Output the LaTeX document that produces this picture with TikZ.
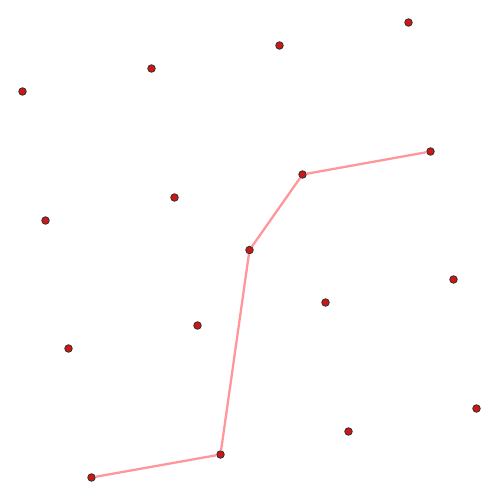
\documentclass[tikz,border=0pt]{standalone}
\begin{document}
\begin{tikzpicture}[x=0.02cm, y=-0.02cm,
    pt/.style={circle, draw=black!80, fill=ptred, line width=0.5pt, inner sep=0pt, minimum size=0.15cm},
    route/.style={linkred, line width=1.3pt}]
    % Define colors
    \definecolor{ptred}{RGB}{210, 20, 20}
    \definecolor{linkred}{RGB}{255, 150, 155}

    % Canvas
    \useasboundingbox (0, 0) rectangle (500, 500);

    % Lattice points
    \node[pt] (p1) at (408.5, 22.5) {};
    \node[pt] (p2) at (279.5, 45.5) {};
    \node[pt] (p3) at (151.5, 68.5) {};
    \node[pt] (p4) at (22.5, 91.5) {};
    \node[pt] (p5) at (430.5, 151.5) {};
    \node[pt] (p6) at (302.5, 174.5) {};
    \node[pt] (p7) at (174.5, 197.5) {};
    \node[pt] (p8) at (45.5, 220.5) {};
    \node[pt] (p9) at (249.5, 250) {};
    \node[pt] (p10) at (453.5, 279.5) {};
    \node[pt] (p11) at (325.5, 302.5) {};
    \node[pt] (p12) at (197.5, 325.5) {};
    \node[pt] (p13) at (68.5, 348.5) {};
    \node[pt] (p14) at (476.5, 408.5) {};
    \node[pt] (p15) at (348.5, 431.5) {};
    \node[pt] (p16) at (220.5, 454.5) {};
    \node[pt] (p17) at (91.5, 477.5) {};

    % Path through the points
    \draw[route] (p17) -- (p16) -- (p9) -- (p6) -- (p5);
\end{tikzpicture}
\end{document}
